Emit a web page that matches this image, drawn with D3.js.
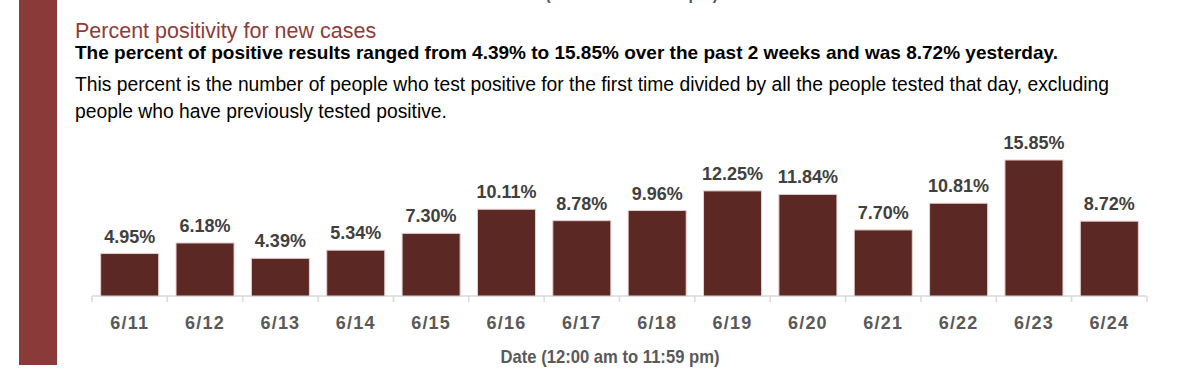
<!DOCTYPE html>
<html>
<head>
<meta charset="utf-8">
<script src="https://cdn.jsdelivr.net/npm/d3@7"></script>
<style>
  body { margin: 0; background: #fff; }
  text { font-family: "Liberation Sans", Arial, sans-serif; }
</style>
</head>
<body>
<div id="chart"></div>
<script>
/* Percent positivity bar chart */

const dates = ["6/11", "6/12", "6/13", "6/14", "6/15", "6/16", "6/17",
               "6/18", "6/19", "6/20", "6/21", "6/22", "6/23", "6/24"];
const positivity = [4.95, 6.18, 4.39, 5.34, 7.30, 10.11, 8.78,
                    9.96, 12.25, 11.84, 7.70, 10.81, 15.85, 8.72];

const titleText = "Percent positivity for new cases";
const summaryText = "The percent of positive results ranged from 4.39% to 15.85% over the past 2 weeks and was 8.72% yesterday.";
const noteLines = ["This percent is the number of people who test positive for the first time divided by all the people tested that day, excluding",
                   "people who have previously tested positive."];
const axisTitle = "Date (12:00 am to 11:59 pm)";

const data = dates.map((d, i) => ({ date: d, value: positivity[i] }));

const width = 1200,
      height = 375,
      margin = ({ top: 160, right: 53, bottom: 79, left: 92 });

let svg = d3.select("#chart")
    .append("svg")
    .attr("width", width)
    .attr("height", height)
    .attr("viewBox", [0, 0, width, height]);

// red stripe on the left
svg.append("rect")
    .attr("x", 19).attr("y", 0)
    .attr("width", 38).attr("height", 365)
    .attr("fill", "#8B3A3A");

// cut-off axis title from the chart above
svg.append("text")
    .attr("x", 612).attr("y", -1)
    .attr("text-anchor", "middle")
    .attr("font-size", 18).attr("font-weight", "bold")
    .attr("textLength", 212).attr("lengthAdjust", "spacingAndGlyphs")
    .attr("fill", "#595959")
    .text(axisTitle);

// heading texts
svg.append("text")
    .attr("x", 75).attr("y", 38)
    .attr("font-size", 21.5)
    .attr("fill", "#8E3B3A")
    .text(titleText);

svg.append("text")
    .attr("x", 75).attr("y", 59)
    .attr("font-size", 18.5).attr("font-weight", "bold")
    .attr("textLength", 983).attr("lengthAdjust", "spacingAndGlyphs")
    .attr("fill", "#000")
    .text(summaryText);

svg.selectAll(".note")
    .data(noteLines)
    .join("text")
    .attr("class", "note")
    .attr("x", 75)
    .attr("y", (d, i) => 91 + i * 27)
    .attr("font-size", 19.3)
    .attr("fill", "#000")
    .text(d => d);

let x = d3.scaleBand()
    .domain(dates)
    .range([margin.left, width - margin.right])
    .paddingInner(0.23)
    .paddingOuter(0.115);

let y = d3.scaleLinear()
    .domain([0, d3.max(positivity)])
    .range([height - margin.bottom, margin.top]);

// axis line and boundary ticks
const base = y(0);
svg.append("line")
    .attr("x1", x.range()[0]).attr("x2", x.range()[1])
    .attr("y1", base).attr("y2", base)
    .attr("stroke", "#d9d9d9").attr("stroke-width", 1.5);

svg.selectAll(".bound")
    .data(d3.range(dates.length + 1))
    .join("line")
    .attr("class", "bound")
    .attr("x1", i => x.range()[0] + i * x.step())
    .attr("x2", i => x.range()[0] + i * x.step())
    .attr("y1", base).attr("y2", base + 6)
    .attr("stroke", "#d9d9d9").attr("stroke-width", 1.5);

// category labels
let xAxis = svg.append("g")
    .attr("transform", `translate(0,${base})`)
    .call(d3.axisBottom(x).tickSize(0).tickPadding(20));
xAxis.select(".domain").remove();
xAxis.selectAll("text")
    .attr("font-family", "Liberation Sans, Arial, sans-serif")
    .attr("font-size", 18).attr("font-weight", "bold")
    .attr("letter-spacing", 1.2)
    .attr("fill", "#595959");

let bar = svg.selectAll(".bar")
    .data(data)
    .join("g")
    .attr("class", "bar");

bar.append("rect")
    .attr("fill", "#5C2824")
    .attr("stroke", "#e6cfcf")
    .attr("stroke-width", 1)
    .attr("x", d => x(d.date))
    .attr("width", x.bandwidth())
    .attr("y", d => y(d.value))
    .attr("height", d => y(0) - y(d.value));

bar.append("text")
    .text(d => d.value.toFixed(2) + "%")
    .attr("x", d => x(d.date) + x.bandwidth() / 2)
    .attr("y", d => y(d.value) - 11)
    .attr("text-anchor", "middle")
    .attr("font-size", 18).attr("font-weight", "bold")
    .attr("fill", "#404040");

// axis title
svg.append("text")
    .attr("x", 610).attr("y", 363)
    .attr("text-anchor", "middle")
    .attr("font-size", 19).attr("font-weight", "bold")
    .attr("textLength", 219).attr("lengthAdjust", "spacingAndGlyphs")
    .attr("fill", "#595959")
    .text(axisTitle);
</script>
</body>
</html>
